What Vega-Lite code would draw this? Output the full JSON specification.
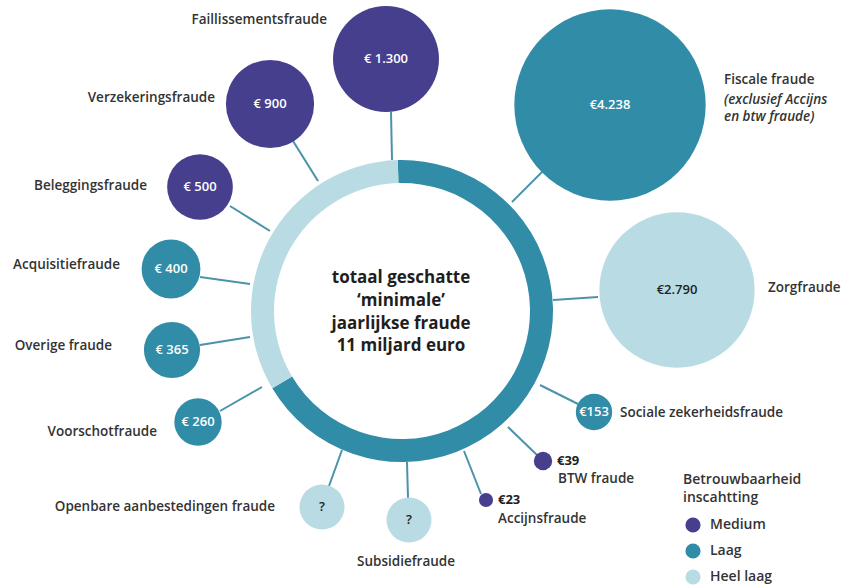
{
  "$schema": "https://vega.github.io/schema/vega-lite/v6.json",
  "width": 855,
  "height": 585,
  "autosize": "none",
  "padding": 0,
  "background": "white",
  "config": {"view": {"stroke": null}, "font": "Open Sans"},
  "datasets": {
    "bubbles": [
      {"name": "Faillissementsfraude", "value": 1300, "label": "€ 1.300", "reliability": "Medium", "x": 386, "y": 59},
      {"name": "Verzekeringsfraude", "value": 900, "label": "€ 900", "reliability": "Medium", "x": 270, "y": 104},
      {"name": "Beleggingsfraude", "value": 500, "label": "€ 500", "reliability": "Medium", "x": 200, "y": 187},
      {"name": "Acquisitiefraude", "value": 400, "label": "€ 400", "reliability": "Laag", "x": 171, "y": 269},
      {"name": "Overige fraude", "value": 365, "label": "€ 365", "reliability": "Laag", "x": 172, "y": 350},
      {"name": "Voorschotfraude", "value": 260, "label": "€ 260", "reliability": "Laag", "x": 198, "y": 422},
      {"name": "Openbare aanbestedingen fraude", "value": null, "label": "?", "reliability": "Heel laag", "x": 322, "y": 507},
      {"name": "Subsidiefraude", "value": null, "label": "?", "reliability": "Heel laag", "x": 409, "y": 520},
      {"name": "Accijnsfraude", "value": 23, "label": "", "reliability": "Medium", "x": 486, "y": 500},
      {"name": "BTW fraude", "value": 39, "label": "", "reliability": "Medium", "x": 543, "y": 461},
      {"name": "Sociale zekerheidsfraude", "value": 153, "label": "€153", "reliability": "Laag", "x": 594, "y": 412},
      {"name": "Zorgfraude", "value": 2790, "label": "€2.790", "reliability": "Heel laag", "x": 677, "y": 290},
      {"name": "Fiscale fraude", "value": 4238, "label": "€4.238", "reliability": "Laag", "x": 610, "y": 105}
    ],
    "links": [
      {"name": "Faillissementsfraude", "x": 391, "y": 112, "x2": 392, "y2": 160},
      {"name": "Verzekeringsfraude", "x": 293, "y": 141, "x2": 318, "y2": 181},
      {"name": "Beleggingsfraude", "x": 230, "y": 206, "x2": 270, "y2": 231},
      {"name": "Acquisitiefraude", "x": 200, "y": 277, "x2": 250, "y2": 284},
      {"name": "Overige fraude", "x": 200, "y": 345, "x2": 250, "y2": 337},
      {"name": "Voorschotfraude", "x": 220, "y": 411, "x2": 262, "y2": 387},
      {"name": "Openbare aanbestedingen fraude", "x": 329, "y": 486, "x2": 342, "y2": 450},
      {"name": "Subsidiefraude", "x": 408, "y": 498, "x2": 407, "y2": 462},
      {"name": "Accijnsfraude", "x": 481, "y": 494, "x2": 464, "y2": 451},
      {"name": "BTW fraude", "x": 537, "y": 455, "x2": 508, "y2": 427},
      {"name": "Sociale zekerheidsfraude", "x": 578, "y": 404, "x2": 540, "y2": 385},
      {"name": "Zorgfraude", "x": 598, "y": 297, "x2": 553, "y2": 300},
      {"name": "Fiscale fraude", "x": 542, "y": 172, "x2": 512, "y2": 202}
    ],
    "ring": [
      {"reliability": "Laag", "start": -1.6, "end": 239.2, "x": 402, "y": 311},
      {"reliability": "Heel laag", "start": 239.2, "end": 358.4, "x": 402, "y": 311}
    ],
    "namesRight": [
      {"text": "Faillissementsfraude", "x": 327, "y": 20},
      {"text": "Verzekeringsfraude", "x": 215, "y": 98},
      {"text": "Beleggingsfraude", "x": 147, "y": 186},
      {"text": "Acquisitiefraude", "x": 120, "y": 265},
      {"text": "Overige fraude", "x": 112, "y": 346},
      {"text": "Voorschotfraude", "x": 157, "y": 432},
      {"text": "Openbare aanbestedingen fraude", "x": 275, "y": 507}
    ],
    "namesLeft": [
      {"text": "Accijnsfraude", "x": 498, "y": 519},
      {"text": "BTW fraude", "x": 558, "y": 479},
      {"text": "Sociale zekerheidsfraude", "x": 620, "y": 413},
      {"text": "Zorgfraude", "x": 768, "y": 288},
      {"text": "Fiscale fraude", "x": 724, "y": 80}
    ],
    "namesCenter": [
      {"text": "Subsidiefraude", "x": 406, "y": 562}
    ],
    "notes": [
      {"text": "(exclusief Accijns", "x": 724, "y": 100},
      {"text": "en btw fraude)", "x": 724, "y": 117}
    ],
    "smallValues": [
      {"text": "€39", "x": 557, "y": 461},
      {"text": "€23", "x": 498, "y": 500}
    ],
    "center": [
      {"text": "totaal geschatte", "x": 401, "y": 278},
      {"text": "‘minimale’", "x": 401, "y": 301},
      {"text": "jaarlijkse fraude", "x": 401, "y": 324},
      {"text": "11 miljard euro", "x": 401, "y": 346}
    ]
  },
  "layer": [
    {
      "data": {"name": "links"},
      "mark": {"type": "rule", "color": "#4b93aa", "strokeWidth": 2},
      "encoding": {
        "x": {"field": "x", "type": "quantitative", "scale": {"domain": [0, 855], "nice": false, "zero": false}, "axis": null},
        "y": {"field": "y", "type": "quantitative", "scale": {"domain": [0, 585], "reverse": true, "nice": false, "zero": false}, "axis": null},
        "x2": {"field": "x2"},
        "y2": {"field": "y2"}
      }
    },
    {
      "data": {"name": "ring"},
      "mark": {"type": "arc", "radius": 151, "radius2": 128},
      "encoding": {
        "x": {"field": "x", "type": "quantitative"},
        "y": {"field": "y", "type": "quantitative"},
        "theta": {"field": "start", "type": "quantitative", "stack": null, "scale": {"domain": [0, 360], "range": [0, 6.283185]}},
        "theta2": {"field": "end"},
        "color": {"field": "reliability", "type": "nominal"}
      }
    },
    {
      "data": {"name": "bubbles"},
      "transform": [{"filter": "isValid(datum.value)"}],
      "mark": {"type": "circle", "opacity": 1},
      "encoding": {
        "x": {"field": "x", "type": "quantitative"},
        "y": {"field": "y", "type": "quantitative"},
        "size": {"field": "value", "type": "quantitative", "scale": {"type": "linear", "domain": [0, 4238], "range": [0, 36620], "zero": true}, "legend": null},
        "color": {
          "field": "reliability", "type": "nominal",
          "scale": {"domain": ["Medium", "Laag", "Heel laag"], "range": ["#463f8e", "#318ca7", "#b9dbe4"]},
          "legend": {
            "orient": "none", "legendX": 683, "legendY": 473,
            "title": ["Betrouwbaarheid", "inscahtting"],
            "titleFontSize": 14, "titleFontWeight": 600, "titleLineHeight": 18, "titleColor": "#333333", "titlePadding": 12,
            "labelFontSize": 14, "labelFontWeight": 600, "labelColor": "#333333", "labelOffset": 9,
            "symbolType": "circle", "symbolSize": 230, "symbolStrokeWidth": 0, "symbolOpacity": 1, "symbolOffset": 2,
            "rowPadding": 10, "padding": 0
          }
        }
      }
    },
    {
      "data": {"name": "bubbles"},
      "transform": [{"filter": "!isValid(datum.value)"}],
      "mark": {"type": "circle", "opacity": 1, "size": 2025},
      "encoding": {
        "x": {"field": "x", "type": "quantitative"},
        "y": {"field": "y", "type": "quantitative"},
        "color": {"field": "reliability", "type": "nominal"}
      }
    },
    {
      "data": {"name": "bubbles"},
      "mark": {"type": "text", "fontSize": 13, "fontWeight": 600, "baseline": "middle", "align": "center"},
      "encoding": {
        "x": {"field": "x", "type": "quantitative"},
        "y": {"field": "y", "type": "quantitative"},
        "text": {"field": "label"},
        "color": {"condition": {"test": "datum.reliability === 'Heel laag'", "value": "#222222"}, "value": "#ffffff"}
      }
    },
    {
      "data": {"name": "namesRight"},
      "mark": {"type": "text", "fontSize": 13.5, "fontWeight": 600, "baseline": "middle", "align": "right", "color": "#333333"},
      "encoding": {
        "x": {"field": "x", "type": "quantitative"},
        "y": {"field": "y", "type": "quantitative"},
        "text": {"field": "text"}
      }
    },
    {
      "data": {"name": "namesLeft"},
      "mark": {"type": "text", "fontSize": 13.5, "fontWeight": 600, "baseline": "middle", "align": "left", "color": "#333333"},
      "encoding": {
        "x": {"field": "x", "type": "quantitative"},
        "y": {"field": "y", "type": "quantitative"},
        "text": {"field": "text"}
      }
    },
    {
      "data": {"name": "namesCenter"},
      "mark": {"type": "text", "fontSize": 13.5, "fontWeight": 600, "baseline": "middle", "align": "center", "color": "#333333"},
      "encoding": {
        "x": {"field": "x", "type": "quantitative"},
        "y": {"field": "y", "type": "quantitative"},
        "text": {"field": "text"}
      }
    },
    {
      "data": {"name": "notes"},
      "mark": {"type": "text", "fontSize": 13.5, "fontWeight": 600, "fontStyle": "italic", "baseline": "middle", "align": "left", "color": "#333333"},
      "encoding": {
        "x": {"field": "x", "type": "quantitative"},
        "y": {"field": "y", "type": "quantitative"},
        "text": {"field": "text"}
      }
    },
    {
      "data": {"name": "smallValues"},
      "mark": {"type": "text", "fontSize": 13, "fontWeight": "bold", "baseline": "middle", "align": "left", "color": "#222222"},
      "encoding": {
        "x": {"field": "x", "type": "quantitative"},
        "y": {"field": "y", "type": "quantitative"},
        "text": {"field": "text"}
      }
    },
    {
      "data": {"name": "center"},
      "mark": {"type": "text", "fontSize": 17, "fontWeight": "bold", "baseline": "middle", "align": "center", "color": "#1e1e1e"},
      "encoding": {
        "x": {"field": "x", "type": "quantitative"},
        "y": {"field": "y", "type": "quantitative"},
        "text": {"field": "text"}
      }
    }
  ]
}
